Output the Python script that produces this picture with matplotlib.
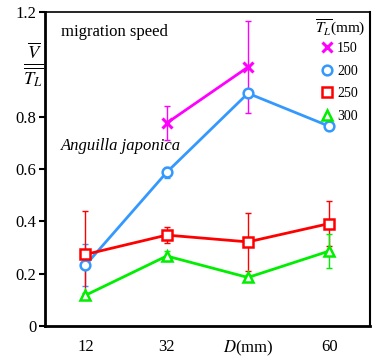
import numpy as np
import matplotlib
matplotlib.use('Agg')
import matplotlib.pyplot as plt

plt.rcParams['font.family'] = ['Liberation Serif', 'DejaVu Serif']
plt.rcParams['mathtext.fontset'] = 'stix'

# categories on the D axis
d_labels = ['12', '32', '$D$(mm)', '60']

# mean V/T_L for each T_L group (None = not measured)
v150 = [None, 0.776, 0.99, None]
e150 = [0, 0.065, 0.175, 0]
v200 = [0.233, 0.588, 0.89, 0.764]
e200 = [0.08, 0.02, 0.0, 0.0]
v250 = [0.274, 0.348, 0.322, 0.392]
e250 = [0.166, 0.03, 0.11, 0.087]
v300 = [0.118, 0.268, 0.186, 0.287]
e300 = [0.01, 0.02, 0.01, 0.066]

series = [('150', v150, e150, '#ff00ff', 'x'),
          ('200', v200, e200, '#3399ff', 'o'),
          ('250', v250, e250, '#ff0000', 's'),
          ('300', v300, e300, '#00ee00', '^')]

fig = plt.figure(figsize=(3.77, 3.58), dpi=100)
ax = fig.add_axes([0.119, 0.089, 0.862, 0.877])

xpos = np.arange(len(d_labels))
for name, vals, errs, col, mk in series:
    idx = [i for i, v in enumerate(vals) if v is not None]
    x = xpos[idx]
    y = np.array([vals[i] for i in idx])
    e = np.array([errs[i] for i in idx])
    ax.errorbar(x, y, yerr=e, color=col, lw=0, elinewidth=1, capsize=2, capthick=1, zorder=2)
    ax.plot(x, y, color=col, lw=2, zorder=3)
    if mk == 'x':
        ax.plot(x, y, ls='none', marker='x', ms=7, mew=2.2, color=col, zorder=4, label=name)
    else:
        ax.plot(x, y, ls='none', marker=mk, ms=7, mew=1.8, mfc='white', mec=col, zorder=4, label=name)

ax.set_xlim(-0.5, 3.5)
ax.set_ylim(0, 1.2)
ax.set_xticks(xpos)
ax.set_xticklabels(d_labels, fontsize=12)
ax.tick_params(axis='x', length=0, pad=9)
ax.set_yticks([0, 0.2, 0.4, 0.6, 0.8, 1.2])
ax.set_yticklabels(['0', '0.2', '0.4', '0.6', '0.8', '1.2'], fontsize=12)
ax.tick_params(axis='y', length=4, width=1.5, direction='out', pad=2)

ax.spines['left'].set_linewidth(2)
ax.spines['bottom'].set_linewidth(2)
ax.spines['top'].set_linewidth(1.2)
ax.spines['right'].set_linewidth(1.5)

ax.text(-0.65, 1.0, r'$\frac{\overline{V}}{\overline{T_L}}$', fontsize=19,
        ha='center', va='center', transform=ax.transData, clip_on=False)
ax.text(-0.3, 1.125, 'migration speed', fontsize=12, ha='left', va='center')
ax.text(-0.3, 0.69, 'Anguilla japonica', fontsize=12, style='italic', ha='left', va='center')

ax.text(0.91, 0.95, r'$\overline{T_L}$(mm)', fontsize=11, ha='center', va='center',
        transform=ax.transAxes)
leg = ax.legend(loc='upper right', bbox_to_anchor=(0.98, 0.922), frameon=False,
                fontsize=10, handlelength=0.8, handletextpad=0.35, labelspacing=0.68,
                borderaxespad=0.0)

fig.savefig('out.png', dpi=100)
